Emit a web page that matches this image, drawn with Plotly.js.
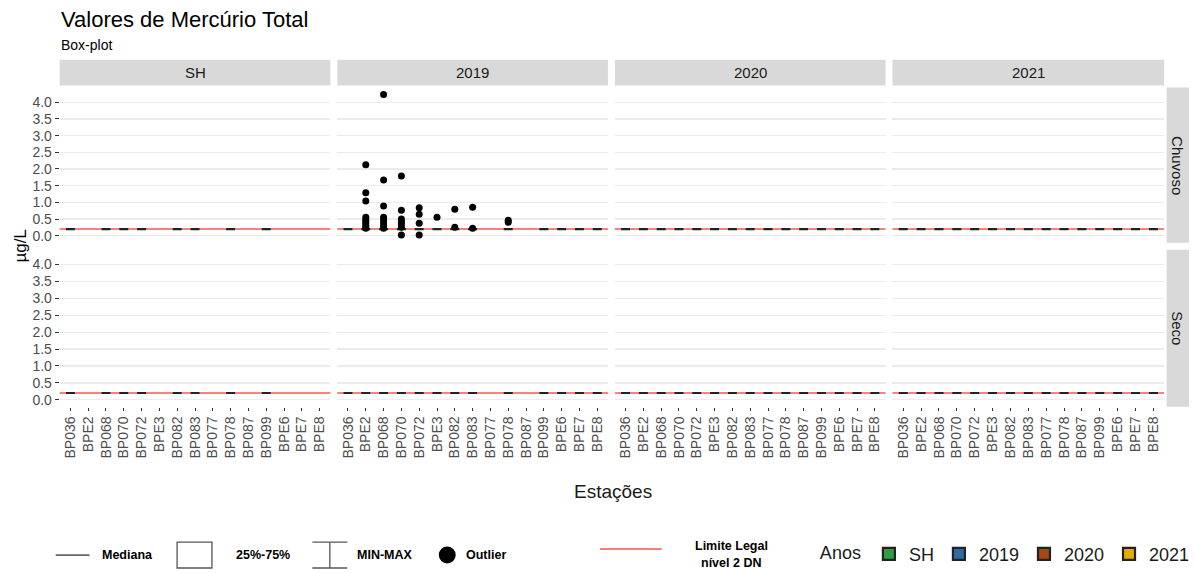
<!DOCTYPE html>
<html><head><meta charset="utf-8">
<script src="https://cdn.plot.ly/plotly-3.0.1.min.js"></script>
<style>html,body{margin:0;padding:0;background:#fff}#chart{width:1195px;height:573px}</style>
</head><body><div id="chart"></div>
<script>
// ---------------- DATA ----------------
const stations = ['BP036','BPE2','BP068','BP070','BP072','BPE3','BP082','BP083','BP077','BP078','BP087','BP099','BPE6','BPE7','BPE8'];
const years = ['SH','2019','2020','2021'];
const seasons = ['Chuvoso','Seco'];
const yearColors = ['#2E9E44','#2B6CA8','#A8470F','#E6AE00'];
const legalLimit = 0.2;

// stations that have a box in each year panel
const shStations   = ['BP036','BP068','BP070','BP072','BP082','BP083','BP078','BP099'];
const y2019Stations = ['BP036','BPE2','BP068','BP070','BP072','BPE3','BP082','BP083','BP078','BP099','BPE6','BPE7','BPE8'];
const y2020Stations = ['BP036','BPE2','BP068','BP070','BP072','BPE3','BP082','BP083','BP077','BP078','BP087','BP099','BPE6','BPE7','BPE8'];
const y2021Stations = ['BP036','BPE2','BP068','BP070','BP072','BPE3','BP082','BP083','BP077','BP078','BP087','BP099','BPE6','BPE7','BPE8'];

// medians (µg/L); boxes are collapsed (quartiles and whiskers equal the median)
const shChuvosoMed   = [0.2,0.2,0.2,0.2,0.2,0.2,0.2,0.2];
const shSecoMed      = [0.2,0.2,0.2,0.2,0.2,0.2,0.2,0.2];
const y2019ChuvosoMed = [0.2,0.2,0.2,0.2,0.2,0.2,0.2,0.2,0.2,0.2,0.2,0.2,0.2];
const y2019SecoMed    = [0.2,0.2,0.2,0.2,0.2,0.2,0.2,0.2,0.2,0.2,0.2,0.2,0.2];
const y2020ChuvosoMed = [0.2,0.2,0.2,0.2,0.2,0.2,0.2,0.2,0.2,0.2,0.2,0.2,0.2,0.2,0.2];
const y2020SecoMed    = [0.2,0.2,0.2,0.2,0.2,0.2,0.2,0.2,0.2,0.2,0.2,0.2,0.2,0.2,0.2];
const y2021ChuvosoMed = [0.2,0.2,0.2,0.2,0.2,0.2,0.2,0.2,0.2,0.2,0.2,0.2,0.2,0.2,0.2];
const y2021SecoMed    = [0.2,0.2,0.2,0.2,0.2,0.2,0.2,0.2,0.2,0.2,0.2,0.2,0.2,0.2,0.2];

// outliers, 2019 / Chuvoso
const out2019ChuvosoX = ['BPE2','BPE2','BPE2','BPE2','BPE2','BPE2','BPE2','BPE2','BPE2',
  'BP068','BP068','BP068','BP068','BP068','BP068','BP068','BP068',
  'BP070','BP070','BP070','BP070','BP070','BP070','BP070',
  'BP072','BP072','BP072','BP072',
  'BPE3','BP082','BP082','BP083','BP083','BP078','BP078'];
const out2019ChuvosoY = [2.13,1.29,1.04,0.55,0.48,0.42,0.35,0.28,0.22,
  4.23,1.67,0.89,0.55,0.47,0.38,0.30,0.22,
  1.79,0.76,0.50,0.42,0.35,0.25,0.02,
  0.84,0.64,0.37,0.02,
  0.55,0.79,0.25,0.85,0.22,0.46,0.40];

// ---------------- LAYOUT HELPERS ----------------
const W = 1195, H = 573;
const px = x => x / W;
const py = y => 1 - y / H;
const colPx = [[60,332],[339,611],[618,890],[897,1170]];
const rowPx = [[88,244],[251,409]];
const FONT = 'Liberation Sans, Arial, sans-serif';
const NARROW = 'Liberation Sans Narrow, Arial Narrow, Liberation Sans, sans-serif';

const panelStations = [shStations, y2019Stations, y2020Stations, y2021Stations];
const panelMed = [[shChuvosoMed, shSecoMed],[y2019ChuvosoMed, y2019SecoMed],[y2020ChuvosoMed, y2020SecoMed],[y2021ChuvosoMed, y2021SecoMed]];

const traces = [];
const layout = {
  width: W, height: H,
  margin: {l:0, r:0, t:0, b:0, pad:0},
  paper_bgcolor: '#fff', plot_bgcolor: '#fff',
  font: {family: FONT, color: '#1A1A1A'},
  showlegend: true,
  boxgap: 0.28,
  hovermode: false,
  shapes: [], annotations: []
};

for (let r = 0; r < 2; r++) {
  for (let c = 0; c < 4; c++) {
    const idx = r*4 + c + 1;
    const suf = idx === 1 ? '' : String(idx);
    layout['xaxis' + suf] = {
      domain: [px(colPx[c][0]), px(colPx[c][1])],
      anchor: 'y' + suf,
      type: 'category', categoryorder: 'array', categoryarray: stations,
      range: [-0.6, stations.length - 0.4],
      showgrid: false, zeroline: false, showline: false,
      showticklabels: r === 1, ticks: r === 1 ? 'outside' : '',
      ticklen: 3, tickwidth: 1, tickcolor: '#333',
      tickangle: -90, tickfont: {size: 14, color: '#4D4D4D', family: FONT},
      fixedrange: true
    };
    layout['yaxis' + suf] = {
      domain: [py(rowPx[r][1]), py(rowPx[r][0])],
      anchor: 'x' + suf,
      range: [-0.21, 4.44], tick0: 0, dtick: 0.5, tickformat: '.1f',
      showgrid: true, gridcolor: '#EBEBEB', gridwidth: 1.3,
      zeroline: false, showline: false,
      showticklabels: c === 0, ticks: c === 0 ? 'outside' : '',
      ticklen: 4, tickwidth: 1, tickcolor: '#333',
      tickfont: {size: 14, color: '#4D4D4D', family: FONT},
      fixedrange: true
    };
    // legal limit line (data coordinates on y, full panel width)
    layout.shapes.push({type:'line', xref:'paper', yref:'y'+suf,
      x0: px(colPx[c][0]), x1: px(colPx[c][1]),
      y0: legalLimit, y1: legalLimit, layer:'below',
      line:{color:'rgba(255,0,0,0.5)', width:2}});
    // boxes
    const med = panelMed[c][r];
    traces.push({
      type:'box', name: years[c], legendgroup: years[c], showlegend: r === 0,
      x: panelStations[c], q1: med, median: med, q3: med, lowerfence: med, upperfence: med,
      xaxis:'x'+suf, yaxis:'y'+suf,
      fillcolor: yearColors[c], line:{color:'#222222', width:2.2},
      whiskerwidth: 0.5, boxpoints:false, hoverinfo:'skip'
    });
  }
}
// outliers
traces.push({type:'scatter', mode:'markers', x: out2019ChuvosoX, y: out2019ChuvosoY,
  xaxis:'x2', yaxis:'y2', marker:{color:'#000', size:7}, showlegend:false, hoverinfo:'skip'});

// strips
for (let c = 0; c < 4; c++) {
  layout.shapes.push({type:'rect', xref:'paper', yref:'paper',
    x0:px(colPx[c][0]), x1:px(colPx[c][1]), y0:py(86), y1:py(60),
    fillcolor:'#D9D9D9', line:{width:0}, layer:'below'});
  layout.annotations.push({xref:'paper', yref:'paper', x:px((colPx[c][0]+colPx[c][1])/2), y:py(73),
    text: years[c], showarrow:false, xanchor:'center', yanchor:'middle',
    font:{size:15, color:'#1A1A1A', family:FONT}});
}
for (let r = 0; r < 2; r++) {
  layout.shapes.push({type:'rect', xref:'paper', yref:'paper',
    x0:px(1172.5), x1:px(1195), y0:py(rowPx[r][1]), y1:py(rowPx[r][0]),
    fillcolor:'#D9D9D9', line:{width:0}, layer:'below'});
  layout.annotations.push({xref:'paper', yref:'paper', x:px(1184), y:py((rowPx[r][0]+rowPx[r][1])/2),
    text: seasons[r], showarrow:false, textangle:90, xanchor:'center', yanchor:'middle',
    font:{size:15, color:'#1A1A1A', family:FONT}});
}

// titles
layout.annotations.push(
  {xref:'paper', yref:'paper', x:px(59), y:py(20), text:'Valores de Mercúrio Total', showarrow:false,
   xanchor:'left', yanchor:'middle', font:{size:22, color:'#000', family:FONT}},
  {xref:'paper', yref:'paper', x:px(59), y:py(45), text:'Box-plot', showarrow:false,
   xanchor:'left', yanchor:'middle', font:{size:14, color:'#000', family:FONT}},
  {xref:'paper', yref:'paper', x:px(21), y:py(247), text:'µg/L', showarrow:false, textangle:-90,
   xanchor:'center', yanchor:'middle', font:{size:17, color:'#000', family:FONT}},
  {xref:'paper', yref:'paper', x:px(616), y:py(494), text:'Estações', showarrow:false,
   xanchor:'center', yanchor:'middle', font:{size:19, color:'#1A1A1A', family:FONT}}
);

// custom key (left part)
const keyFont = {size:12.5, color:'#000', family:NARROW};
layout.shapes.push(
  {type:'line', xref:'paper', yref:'paper', x0:px(56), x1:px(90), y0:py(558), y1:py(558), line:{color:'#666', width:1.8}},
  {type:'rect', xref:'paper', yref:'paper', x0:px(178), x1:px(213), y0:py(571), y1:py(545), line:{color:'#555', width:1.3}, fillcolor:'#fff'},
  {type:'line', xref:'paper', yref:'paper', x0:px(331.5), x1:px(331.5), y0:py(571), y1:py(545), line:{color:'#555', width:1.3}},
  {type:'line', xref:'paper', yref:'paper', x0:px(314), x1:px(349), y0:py(545), y1:py(545), line:{color:'#555', width:1.3}},
  {type:'line', xref:'paper', yref:'paper', x0:px(314), x1:px(349), y0:py(571), y1:py(571), line:{color:'#555', width:1.3}},
  {type:'circle', xref:'paper', yref:'paper', x0:px(441), x1:px(458), y0:py(566.5), y1:py(549.5), fillcolor:'#000', line:{width:0}},
  {type:'line', xref:'paper', yref:'paper', x0:px(603), x1:px(665), y0:py(552), y1:py(552), line:{color:'rgba(255,90,90,0.8)', width:2}}
);
const keyText = [['Mediana',128,558],['25%-75%',264,558],['MIN-MAX',387,558],['Outlier',488,558],['Limite Legal',735,549],['nível 2 DN',735,566]];
keyText.forEach(k => layout.annotations.push({xref:'paper', yref:'paper', x:px(k[1]), y:py(k[2]),
  text:'<b>'+k[0]+'</b>', showarrow:false, xanchor:'center', yanchor:'middle', font:keyFont}));

// years legend
layout.legend = {
  orientation:'h', x:px(822), xanchor:'left', y:py(557), yanchor:'middle',
  title:{text:'Anos', side:'left', font:{size:18, color:'#1A1A1A', family:FONT}},
  font:{size:18, color:'#1A1A1A', family:FONT},
  bgcolor:'rgba(0,0,0,0)', borderwidth:0, itemclick:false, itemdoubleclick:false,
  traceorder:'normal'
};

Plotly.newPlot('chart', traces, layout, {staticPlot:true, displayModeBar:false});
</script>
</body></html>
